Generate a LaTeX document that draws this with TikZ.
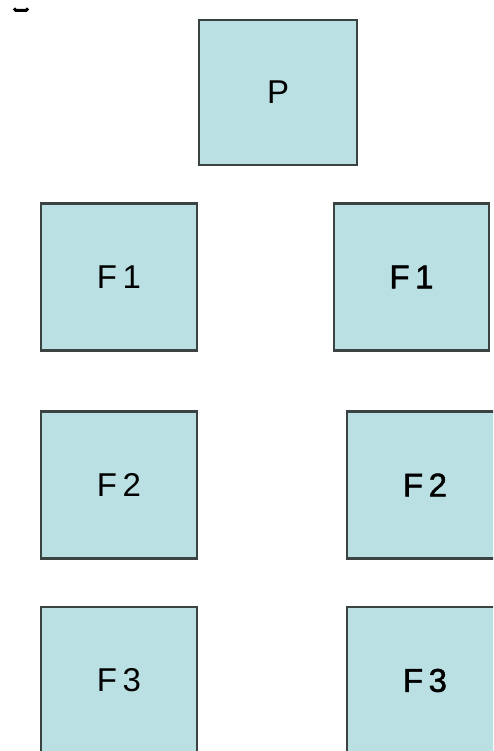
\documentclass[tikz,border=0pt]{standalone}
\usepackage{fontspec}
\setmainfont{Liberation Sans}
\newfontfamily\heavyface{Liberation Sans}[FakeBold=1.3]
\usepackage{tikz}
\usetikzlibrary{positioning}
\usepackage{xcolor}
\definecolor{boxfill}{RGB}{186,224,227}
\definecolor{boxedge}{RGB}{58,66,66}
\tikzstyle{frame}  = [rectangle, minimum width=156pt, minimum height=147pt,
                       draw=boxedge, line width=2.6pt, fill=boxfill,
                       font=\fontsize{33}{36}\selectfont, text=black]
\tikzstyle{lframe} = [frame]
\tikzstyle{rframe} = [frame, font=\fontsize{33}{36}\selectfont\heavyface]

\begin{document}
\begin{tikzpicture}[x=1pt, y=-1pt]

  \useasboundingbox (0,0) rectangle (493,751);
  \clip (0,0) rectangle (493,751);

  % Small mark
  \draw[line width=3pt, black] (14,8.5) -- (16,10.5) -- (26,10.5) -- (28,8.5);

  % Top box
  \node (p) [frame, minimum width=158pt, minimum height=145pt] at (278,92.5) {P};

  % Left column
  \node (f1l) [lframe] at (119,277) {F\,1};
  \node (f2l) [lframe] at (119,485) {F\,2};
  \node (f3l) [lframe] at (119,680.5) {F\,3};

  % Right column
  \node (f1r) [rframe, minimum width=155pt] at (411.5,277) {F\,1};
  \node (f2r) [rframe] at (425,485) {F\,2};
  \node (f3r) [rframe] at (425,680.5) {F\,3};

\end{tikzpicture}
\end{document}
